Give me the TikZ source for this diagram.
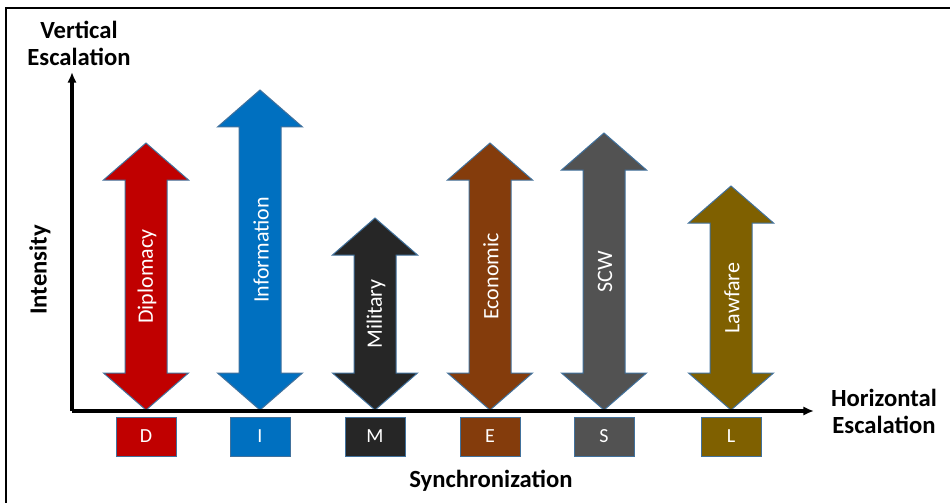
\documentclass[tikz,border=0pt]{standalone}
\usepackage{fontspec}
\setmainfont{Carlito}
\usetikzlibrary{arrows.meta}

\begin{document}
\begin{tikzpicture}[x=0.75pt,y=0.75pt,yscale=-1,xscale=1,
  blkarrow/.style={draw={rgb, 255:red, 65; green, 113; blue, 156 },line width=0.75},
  arrowtext/.style={text=white,rotate=90,inner sep=0.75pt,font=\fontsize{16.5}{20}\selectfont},
  lettbox/.style={draw={rgb, 255:red, 65; green, 113; blue, 156 },line width=0.75,text=white,minimum width=45pt,minimum height=29.25pt,inner sep=0pt,font=\fontsize{15}{18}\selectfont},
  axistext/.style={align=center,inner sep=0.75pt,font=\bfseries\fontsize{18.5}{20.25}\selectfont}]
%set diagram size
\useasboundingbox (0,0) rectangle (950,503);

%Straight Lines [frame]
\draw [line width=2pt] (6,503) -- (6,8) -- (950,8) ;

%Shape: Double Arrow [Diplomacy]
\draw  [blkarrow][fill={rgb, 255:red, 192; green, 0; blue, 0 }  ,fill opacity=1 ] (146,143) -- (188.5,180) -- (167,180) -- (167,373) -- (188.5,373) -- (146,410) -- (103.5,373) -- (125,373) -- (125,180) -- (103.5,180) -- cycle ;
%Shape: Double Arrow [Information]
\draw  [blkarrow][fill={rgb, 255:red, 0; green, 112; blue, 192 }  ,fill opacity=1 ] (260,90) -- (302.5,127) -- (281,127) -- (281,373) -- (302.5,373) -- (260,410) -- (217.5,373) -- (239,373) -- (239,127) -- (217.5,127) -- cycle ;
%Shape: Double Arrow [Military]
\draw  [blkarrow][fill={rgb, 255:red, 38; green, 38; blue, 38 }  ,fill opacity=1 ] (375,218) -- (417.5,255) -- (396,255) -- (396,373) -- (417.5,373) -- (375,410) -- (332.5,373) -- (354,373) -- (354,255) -- (332.5,255) -- cycle ;
%Shape: Double Arrow [Economic]
\draw  [blkarrow][fill={rgb, 255:red, 132; green, 60; blue, 12 }  ,fill opacity=1 ] (490,143) -- (532.5,180) -- (511,180) -- (511,373) -- (532.5,373) -- (490,410) -- (447.5,373) -- (469,373) -- (469,180) -- (447.5,180) -- cycle ;
%Shape: Double Arrow [SCW]
\draw  [blkarrow][fill={rgb, 255:red, 82; green, 82; blue, 82 }  ,fill opacity=1 ] (604,133) -- (646.5,170) -- (625,170) -- (625,373) -- (646.5,373) -- (604,410) -- (561.5,373) -- (583,373) -- (583,170) -- (561.5,170) -- cycle ;
%Shape: Double Arrow [Lawfare]
\draw  [blkarrow][fill={rgb, 255:red, 127; green, 96; blue, 0 }  ,fill opacity=1 ] (731,186) -- (773.5,223) -- (752,223) -- (752,373) -- (773.5,373) -- (731,410) -- (688.5,373) -- (710,373) -- (710,223) -- (688.5,223) -- cycle ;

%Straight Lines [axes]
\draw [line width=2.5pt,-{Latex[length=8pt,width=7pt]}]  (72,411) -- (72,72) ;
\draw [line width=2.5pt,-{Latex[length=8pt,width=7pt]}]  (72,411) -- (814,411) ;

% Text Node
\node [arrowtext] (diplomacy) at (147,276.5) {Diplomacy};
% Text Node
\node [arrowtext] (information) at (261,250) {Information};
% Text Node
\node [arrowtext] (military) at (376,314) {Military};
% Text Node
\node [arrowtext] (economic) at (491,276.5) {Economic};
% Text Node
\node [arrowtext] (scw) at (605,271.5) {SCW};
% Text Node
\node [arrowtext] (lawfare) at (732,298) {Lawfare};

%Shape: Rectangle [letter boxes]
\node [lettbox,fill={rgb, 255:red, 192; green, 0; blue, 0 }] (boxD) at (146,436.5) {D};
\node [lettbox,fill={rgb, 255:red, 0; green, 112; blue, 192 }] (boxI) at (260,436.5) {I};
\node [lettbox,fill={rgb, 255:red, 38; green, 38; blue, 38 }] (boxM) at (375,436.5) {M};
\node [lettbox,fill={rgb, 255:red, 132; green, 60; blue, 12 }] (boxE) at (490,436.5) {E};
\node [lettbox,fill={rgb, 255:red, 82; green, 82; blue, 82 }] (boxS) at (604,436.5) {S};
\node [lettbox,fill={rgb, 255:red, 127; green, 96; blue, 0 }] (boxL) at (731,436.5) {L};

% Text Node
\node [axistext] (vertesc) at (79,43.5) {Vertical\\Escalation};
% Text Node
\node [axistext] (horesc) at (884,411.5) {Horizontal\\Escalation};
% Text Node
\node [axistext,rotate=90] (intensity) at (40,270) {Intensity};
% Text Node
\node [axistext] (synch) at (491,481) {Synchronization};

\end{tikzpicture}
\end{document}
